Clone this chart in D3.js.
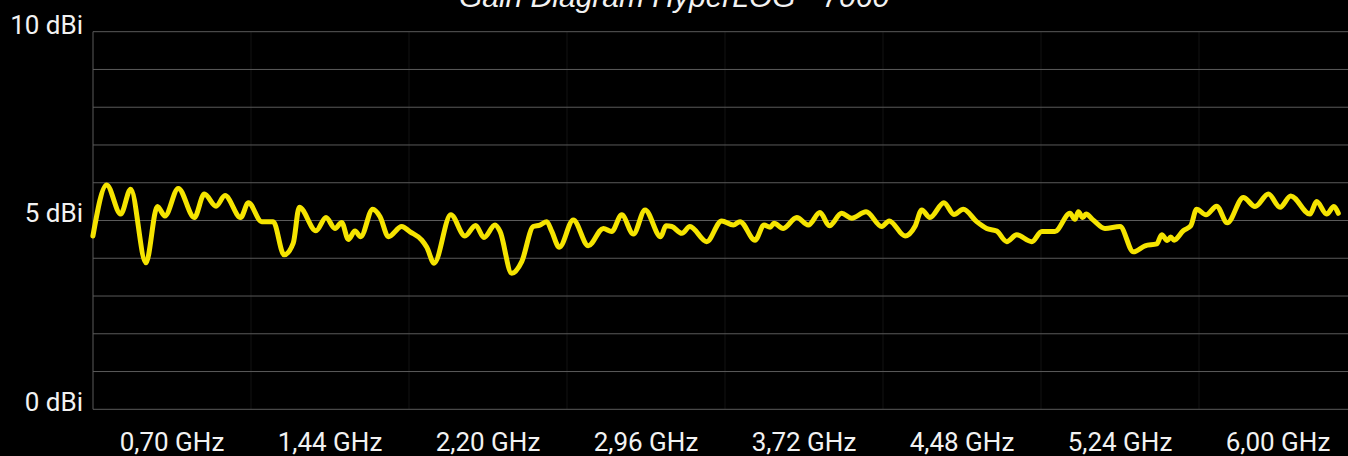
<!DOCTYPE html>
<html>
<head>
<meta charset="utf-8">
<script src="https://cdn.jsdelivr.net/npm/d3@7"></script>
<style>
  html, body { margin: 0; padding: 0; background: #000; overflow: hidden; }
  text { font-family: Roboto, "Noto Sans", sans-serif; fill: #f2f2f2; }
</style>
</head>
<body>
<div id="chart_area"></div>
<script>
// chart data
const title = 'Gain Diagram HyperLOG - 7060';
const tickLabels = ['0,70 GHz', '1,44 GHz', '2,20 GHz', '2,96 GHz', '3,72 GHz', '4,48 GHz', '5,24 GHz', '6,00 GHz'];
const gainTicks = [0, 5, 10];
const gainMax = 10;

const frequencyGHz = [
  0.321, 0.387, 0.454, 0.502, 0.575, 0.630, 0.666, 0.730, 0.807, 0.855,
  0.911, 0.954, 1.029, 1.066, 1.130, 1.185, 1.237, 1.281, 1.310, 1.390,
  1.438, 1.481, 1.513, 1.545, 1.577, 1.604, 1.662, 1.697, 1.737, 1.801,
  1.841, 1.897, 1.921, 1.956, 2.036, 2.104, 2.155, 2.195, 2.248, 2.272,
  2.328, 2.376, 2.431, 2.463, 2.496, 2.520, 2.556, 2.623, 2.695, 2.767,
  2.807, 2.855, 2.911, 2.967, 3.042, 3.067, 3.095, 3.143, 3.182, 3.262,
  3.334, 3.390, 3.422, 3.494, 3.537, 3.566, 3.585, 3.629, 3.694, 3.749,
  3.805, 3.850, 3.909, 3.957, 4.026, 4.101, 4.137, 4.213, 4.260, 4.293,
  4.332, 4.399, 4.447, 4.492, 4.556, 4.604, 4.652, 4.700, 4.748, 4.820,
  4.868, 4.931, 5.003, 5.027, 5.043, 5.064, 5.080, 5.115, 5.171, 5.243,
  5.307, 5.363, 5.419, 5.443, 5.469, 5.486, 5.502, 5.546, 5.582, 5.610,
  5.655, 5.706, 5.757, 5.834, 5.890, 5.954, 6.010, 6.061, 6.153, 6.185,
  6.233, 6.268, 6.289
];
const gainDbi = [
  4.59, 5.94, 5.17, 5.83, 3.88, 5.37, 5.12, 5.85, 5.08, 5.70,
  5.38, 5.66, 5.08, 5.47, 4.97, 4.97, 4.09, 4.40, 5.35, 4.73,
  5.08, 4.79, 4.95, 4.50, 4.72, 4.57, 5.30, 5.10, 4.57, 4.84,
  4.70, 4.48, 4.29, 3.87, 5.15, 4.59, 4.87, 4.55, 4.88, 4.71,
  3.60, 3.91, 4.84, 4.88, 4.97, 4.71, 4.29, 5.01, 4.33, 4.79,
  4.71, 5.15, 4.64, 5.28, 4.57, 4.86, 4.84, 4.66, 4.84, 4.44,
  4.99, 4.88, 4.97, 4.48, 4.88, 4.82, 4.93, 4.79, 5.08, 4.88,
  5.21, 4.86, 5.19, 5.06, 5.23, 4.84, 4.99, 4.59, 4.84, 5.28,
  5.08, 5.47, 5.16, 5.30, 4.97, 4.79, 4.72, 4.44, 4.62, 4.44,
  4.71, 4.71, 5.19, 5.03, 5.23, 5.08, 5.17, 5.01, 4.79, 4.84,
  4.17, 4.33, 4.38, 4.62, 4.47, 4.56, 4.48, 4.73, 4.86, 5.30,
  5.15, 5.38, 4.94, 5.61, 5.37, 5.70, 5.35, 5.65, 5.17, 5.50,
  5.17, 5.37, 5.19
];

// dimensions and margins of the graph
const pageWidth = 1348;
const pageHeight = 456;
const margin = { top: 31.7, left: 93 };
const width = 1264; // 8 bands of 158px, the last one runs past the page edge
const height = 377.6;

const svg = d3
  .select('#chart_area')
  .append('svg')
  .attr('width', pageWidth)
  .attr('height', pageHeight);

// title sits mostly above the page, as in the original
svg.append('text')
  .attr('x', pageWidth / 2)
  .attr('y', 7)
  .attr('text-anchor', 'middle')
  .attr('font-style', 'italic')
  .attr('font-size', '30px')
  .style('font-family', '"Liberation Sans", Arial, sans-serif')
  .text(title);

const g = svg.append('g')
  .attr('transform', 'translate(' + margin.left + ',' + margin.top + ')');

// scales
const band = d3.scaleBand().domain(tickLabels).range([0, width]);
const parseGHz = s => +s.replace(' GHz', '').replace(',', '.');
const x = d3.scaleLinear()
  .domain([parseGHz(tickLabels[0]), parseGHz(tickLabels[tickLabels.length - 1])])
  .range([band(tickLabels[0]) + band.bandwidth() / 2,
          band(tickLabels[tickLabels.length - 1]) + band.bandwidth() / 2]);
const y = d3.scaleLinear().domain([0, gainMax]).range([height, 0]);

// vertical grid at band edges (barely visible)
g.append('g')
  .selectAll('line')
  .data(tickLabels.slice(1))
  .enter()
  .append('line')
  .attr('x1', d => band(d))
  .attr('x2', d => band(d))
  .attr('y1', 0)
  .attr('y2', height)
  .attr('stroke', '#121212')
  .attr('stroke-width', 1);

// horizontal grid every 1 dBi
g.append('g')
  .selectAll('line')
  .data(d3.range(0, gainMax + 1))
  .enter()
  .append('line')
  .attr('x1', 0)
  .attr('x2', width)
  .attr('y1', d => y(d))
  .attr('y2', d => y(d))
  .attr('stroke', '#5a5a5a')
  .attr('stroke-width', 1);

// left axis line
g.append('line')
  .attr('x1', 0).attr('x2', 0)
  .attr('y1', 0).attr('y2', height)
  .attr('stroke', '#5a5a5a');

// y labels
g.append('g')
  .selectAll('text')
  .data(gainTicks)
  .enter()
  .append('text')
  .attr('x', -10)
  .attr('y', d => y(d) + 2)
  .attr('text-anchor', 'end')
  .attr('font-size', '26px')
  .text(d => d + ' dBi');

// x labels (centred in their bands)
g.append('g')
  .selectAll('text')
  .data(tickLabels)
  .enter()
  .append('text')
  .attr('x', d => band(d) + band.bandwidth() / 2)
  .attr('y', height + 42)
  .attr('text-anchor', 'middle')
  .attr('font-size', '26px')
  .text(d => d);

// gain curve
const line = d3.line()
  .x((d, i) => x(frequencyGHz[i]))
  .y(d => y(d))
  .curve(d3.curveMonotoneX);

g.append('path')
  .datum(gainDbi)
  .attr('fill', 'none')
  .attr('stroke', '#f5e400')
  .attr('stroke-width', 5)
  .attr('stroke-linejoin', 'round')
  .attr('stroke-linecap', 'round')
  .attr('d', line);
</script>
</body>
</html>
